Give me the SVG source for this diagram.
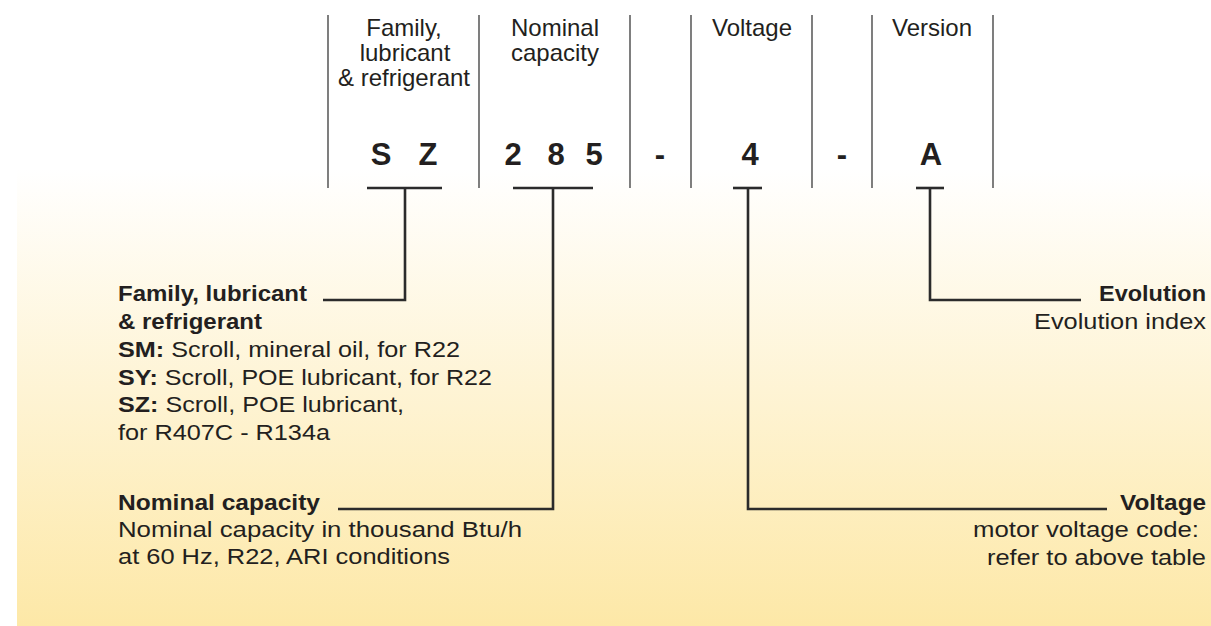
<svg xmlns="http://www.w3.org/2000/svg" width="1211" height="626" viewBox="0 0 1211 626">
<defs>
<linearGradient id="bg" x1="0" y1="0" x2="0" y2="1">
<stop offset="0" stop-color="#ffffff"/>
<stop offset="1" stop-color="#fde8a7"/>
</linearGradient>
<style>
text{font-family:"Liberation Sans",Arial,Helvetica,sans-serif;fill:#231f20}
.hd{font-size:24px;text-anchor:middle}
.code{font-size:31px;font-weight:bold;text-anchor:middle}
.lb{font-size:22px}
.b{font-weight:bold}
.end{text-anchor:end}
.sep{stroke:#3a3a3a;stroke-width:1.3;fill:none}
.conn{stroke:#2b2b2b;stroke-width:2.6;fill:none}
</style>
</defs>
<rect x="0" y="0" width="1211" height="626" fill="#ffffff"/>
<rect x="17" y="169" width="1194" height="457" fill="url(#bg)"/>

<g id="separators">
<line class="sep" x1="328" y1="15" x2="328" y2="188"/>
<line class="sep" x1="479" y1="15" x2="479" y2="188"/>
<line class="sep" x1="630" y1="15" x2="630" y2="188"/>
<line class="sep" x1="691" y1="15" x2="691" y2="188"/>
<line class="sep" x1="812" y1="15" x2="812" y2="188"/>
<line class="sep" x1="872" y1="15" x2="872" y2="188"/>
<line class="sep" x1="993" y1="15" x2="993" y2="188"/>
</g>

<g id="seg-family">
<text class="hd" x="404" y="36">Family,</text>
<text class="hd" x="405" y="61">lubricant</text>
<text class="hd" x="404" y="86">&amp; refrigerant</text>
<text class="code" x="381" y="165">S</text>
<text class="code" x="428" y="165">Z</text>
</g>
<g id="seg-capacity">
<text class="hd" x="555" y="36">Nominal</text>
<text class="hd" x="555" y="61">capacity</text>
<text class="code" x="513" y="165">2</text>
<text class="code" x="556" y="165">8</text>
<text class="code" x="594" y="165">5</text>
</g>
<g id="seg-dash1">
<text class="code" x="660" y="165">-</text>
</g>
<g id="seg-voltage">
<text class="hd" x="752" y="36">Voltage</text>
<text class="code" x="750" y="165">4</text>
</g>
<g id="seg-dash2">
<text class="code" x="842" y="165">-</text>
</g>
<g id="seg-version">
<text class="hd" x="932" y="36">Version</text>
<text class="code" x="931" y="165">A</text>
</g>

<g id="connectors">
<line class="conn" x1="367" y1="188" x2="442" y2="188"/>
<polyline class="conn" points="405,188 405,300 323,300"/>
<line class="conn" x1="513" y1="188" x2="593" y2="188"/>
<polyline class="conn" points="553,188 553,509 338,509"/>
<line class="conn" x1="733" y1="188" x2="762" y2="188"/>
<polyline class="conn" points="748,188 748,509 1107,509"/>
<line class="conn" x1="916" y1="188" x2="944" y2="188"/>
<polyline class="conn" points="930,188 930,300 1081,300"/>
</g>

<g id="label-family">
<text class="lb b" x="118" y="301" textLength="189" lengthAdjust="spacingAndGlyphs">Family, lubricant</text>
<text class="lb b" x="118" y="329" textLength="144" lengthAdjust="spacingAndGlyphs">&amp; refrigerant</text>
<text class="lb" x="118" y="357" textLength="342" lengthAdjust="spacingAndGlyphs"><tspan class="b">SM:</tspan> Scroll, mineral oil, for R22</text>
<text class="lb" x="118" y="385" textLength="374" lengthAdjust="spacingAndGlyphs"><tspan class="b">SY:</tspan> Scroll, POE lubricant, for R22</text>
<text class="lb" x="118" y="412" textLength="286" lengthAdjust="spacingAndGlyphs"><tspan class="b">SZ:</tspan> Scroll, POE lubricant,</text>
<text class="lb" x="118" y="440" textLength="212" lengthAdjust="spacingAndGlyphs">for R407C - R134a</text>
</g>

<g id="label-capacity">
<text class="lb b" x="118" y="510" textLength="202" lengthAdjust="spacingAndGlyphs">Nominal capacity</text>
<text class="lb" x="118" y="537" textLength="404" lengthAdjust="spacingAndGlyphs">Nominal capacity in thousand Btu/h</text>
<text class="lb" x="118" y="564" textLength="332" lengthAdjust="spacingAndGlyphs">at 60 Hz, R22, ARI conditions</text>
</g>

<g id="label-evolution">
<text class="lb b" x="1099" y="301" textLength="107" lengthAdjust="spacingAndGlyphs">Evolution</text>
<text class="lb" x="1034" y="329" textLength="172" lengthAdjust="spacingAndGlyphs">Evolution index</text>
</g>

<g id="label-voltage">
<text class="lb b" x="1120" y="510" textLength="86" lengthAdjust="spacingAndGlyphs">Voltage</text>
<text class="lb" x="973" y="537" textLength="226" lengthAdjust="spacingAndGlyphs">motor voltage code:</text>
<text class="lb" x="987" y="565" textLength="219" lengthAdjust="spacingAndGlyphs">refer to above table</text>
</g>
</svg>
